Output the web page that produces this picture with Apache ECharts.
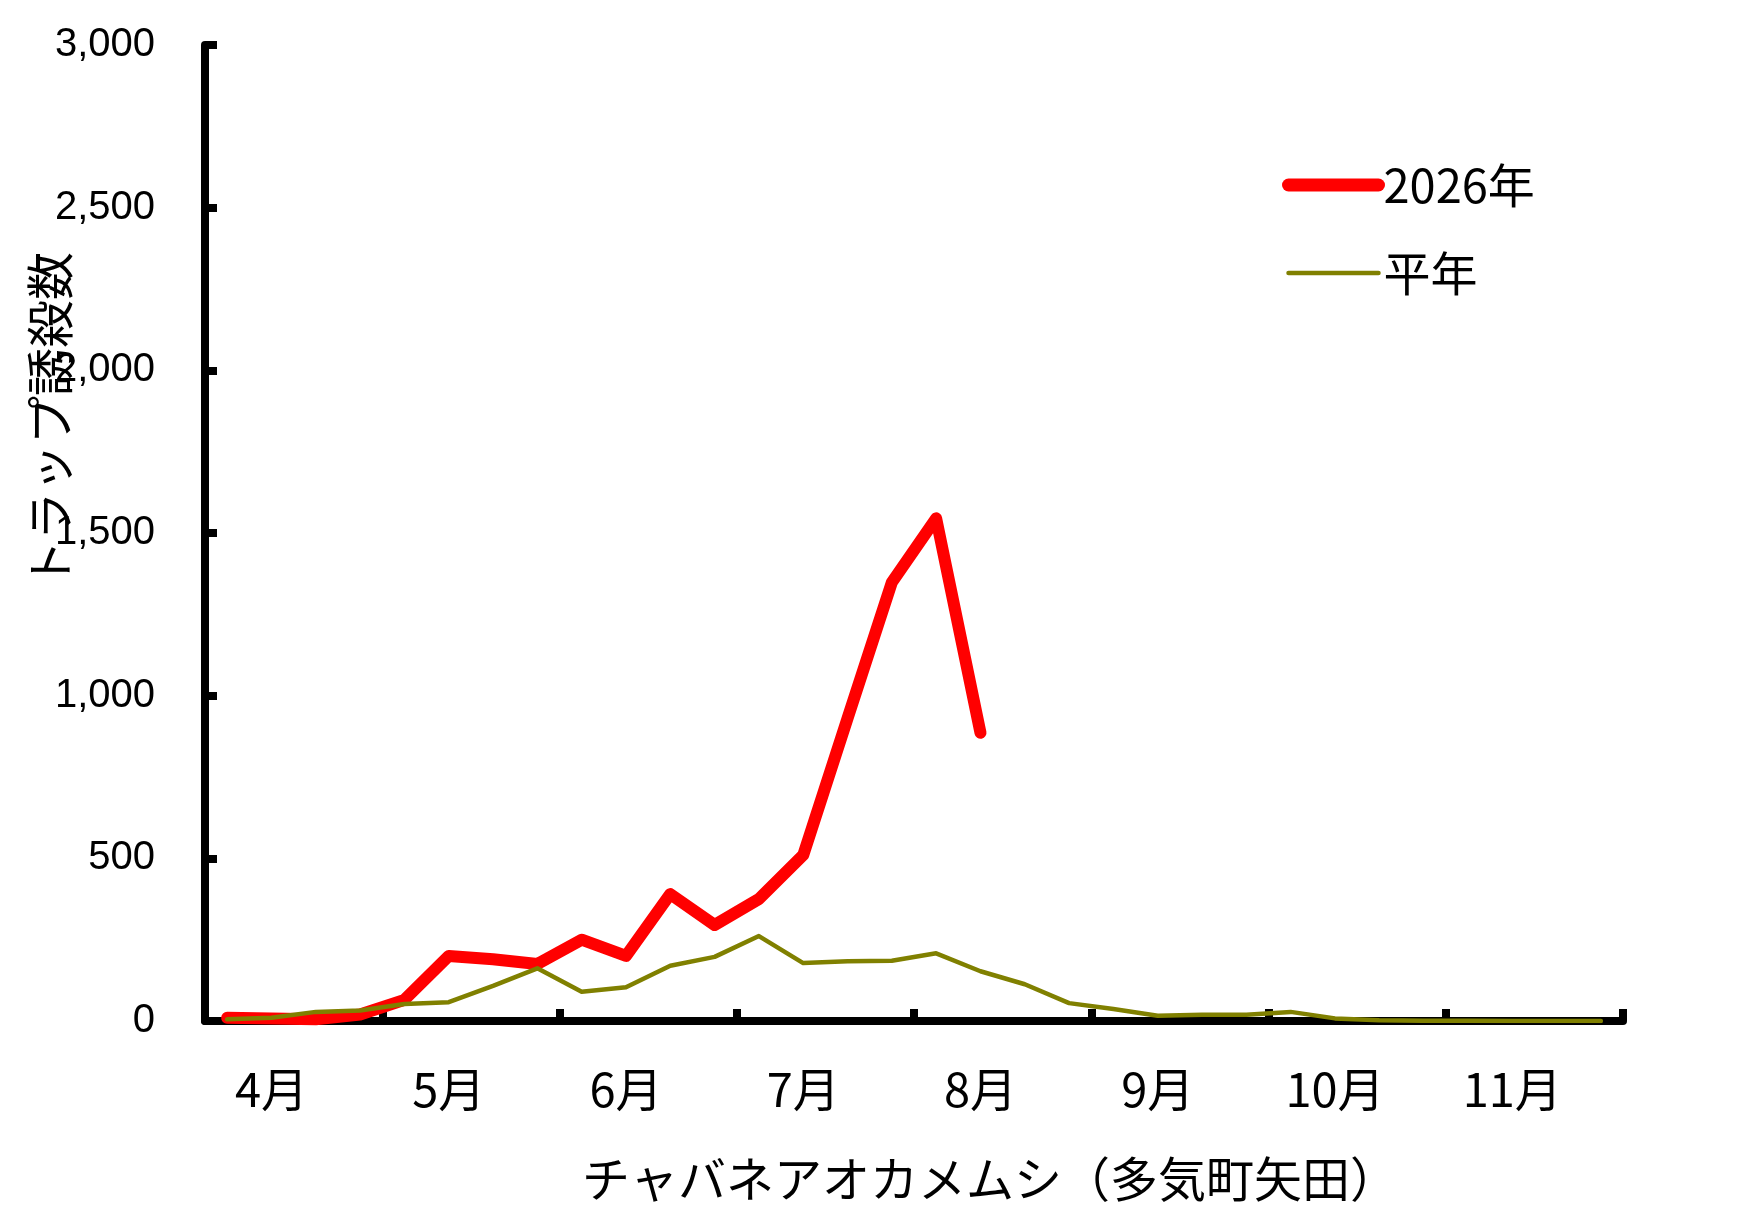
<!DOCTYPE html>
<html>
<head>
<meta charset="utf-8">
<script src="https://cdn.jsdelivr.net/npm/echarts@6/dist/echarts.min.js"></script>
<style>
html,body{margin:0;padding:0;background:#fff;}
#chart{width:1744px;height:1227px;}
</style>
</head>
<body>
<div id="chart"></div>
<script>
// Months shown on the category axis (4 periods per month)
const monthLabels = ['4月','5月','6月','7月','8月','9月','10月','11月'];
const periodsPerMonth = 4;
// 2026 trap counts (only up to early August)
const values2026 = [10, 8, 5, 20, 65, 200, 190, 175, 250, 200, 390, 295, 375, 510, 930, 1348, 1545, 886];
// Normal-year (平年) trap counts
const valuesNormal = [5, 10, 28, 32, 52, 58, 108, 162, 90, 104, 170, 197, 261, 178, 184, 185, 208, 153, 113, 55, 37, 16, 19, 19, 28, 8, 2, 1, 1, 0, 0, 0];
const yTicks = [0, 500, 1000, 1500, 2000, 2500, 3000];
const seriesNames = ['2026年', '平年'];
const xTitle = 'チャバネアオカメムシ（多気町矢田）';
const yTitle = 'トラップ誘殺数';

const categories = [];
monthLabels.forEach(function (m) {
  for (let i = 1; i <= periodsPerMonth; i++) categories.push(m + '|' + i);
});

const cjk = '"Noto Sans CJK JP", "Noto Sans", sans-serif';
const chart = echarts.init(document.getElementById('chart'));
chart.setOption({
  animation: false,
  backgroundColor: '#ffffff',
  grid: { left: 205, right: 121, top: 45, bottom: 206, containLabel: false },
  legend: {
    orient: 'vertical',
    left: 1282,
    top: 157,
    padding: 0,
    itemWidth: 90,
    itemHeight: 14,
    itemGap: 32,
    itemStyle: { opacity: 0 },
    textStyle: { fontFamily: cjk, fontSize: 47, color: '#000', lineHeight: 56 },
    data: [
      { name: seriesNames[0], lineStyle: { width: 13, cap: 'round', color: '#ff0000' } },
      { name: seriesNames[1], lineStyle: { width: 4.5, cap: 'round', color: '#808000' } }
    ]
  },
  xAxis: {
    type: 'category',
    data: categories,
    boundaryGap: true,
    axisLine: { lineStyle: { color: '#000', width: 8 } },
    axisTick: {
      show: true,
      inside: true,
      length: 12,
      interval: periodsPerMonth - 1,
      lineStyle: { color: '#000', width: 8 }
    },
    axisLabel: {
      interval: function (idx) { return idx % periodsPerMonth === 1; },
      formatter: function (v) { return v.split('|')[0]; },
      margin: 44,
      fontFamily: cjk, fontSize: 47, color: '#000', lineHeight: 48
    },
    splitLine: { show: false },
    name: xTitle,
    nameLocation: 'middle',
    nameGap: 134,
    nameTextStyle: { fontFamily: cjk, fontSize: 48, color: '#000', lineHeight: 48, padding: [0, 0, 0, 152] }
  },
  yAxis: {
    type: 'value',
    min: yTicks[0],
    max: yTicks[yTicks.length - 1],
    interval: yTicks[1] - yTicks[0],
    axisLine: { show: true, lineStyle: { color: '#000', width: 8 } },
    axisTick: { show: true, inside: true, length: 12, lineStyle: { color: '#000', width: 8 } },
    axisLabel: {
      margin: 50,
      fontFamily: '"Liberation Sans", Arial, sans-serif', fontSize: 40, color: '#000',
      formatter: function (v) { return v.toLocaleString('en-US'); }
    },
    splitLine: { show: false }
  },
  graphic: [{
    type: 'text',
    x: 50,
    y: 420,
    rotation: Math.PI / 2,
    style: {
      text: yTitle,
      font: '48px "Noto Sans CJK JP"',
      fill: '#000',
      textAlign: 'center',
      textVerticalAlign: 'middle'
    }
  }],
  series: [
    {
      name: seriesNames[0],
      type: 'line',
      data: values2026,
      symbol: 'none',
      itemStyle: { color: '#ff0000' },
      lineStyle: { color: '#ff0000', width: 12, cap: 'round', join: 'round' },
      z: 2
    },
    {
      name: seriesNames[1],
      type: 'line',
      data: valuesNormal,
      symbol: 'none',
      itemStyle: { color: '#808000' },
      lineStyle: { color: '#808000', width: 4.5, cap: 'round', join: 'round' },
      z: 3
    }
  ]
});
</script>
</body>
</html>
